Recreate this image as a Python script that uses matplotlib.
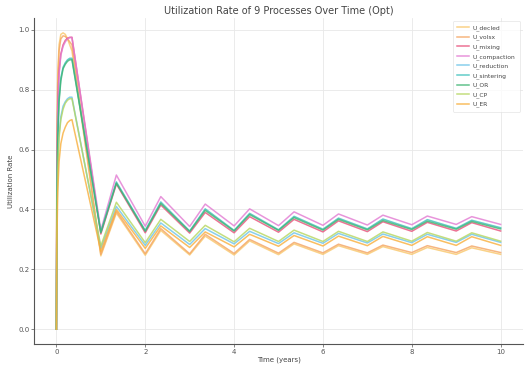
import matplotlib
matplotlib.use("Agg")
import matplotlib.pyplot as plt

# time points (years)
t_start = [0, 0.01, 0.03, 0.06, 0.1, 0.15, 0.2, 0.25, 0.3, 0.35]
t_cycle = [1, 1.35, 2, 2.35, 3, 3.35, 4, 4.35, 5, 5.35, 6, 6.35, 7, 7.35,
           8, 8.35, 9, 9.35, 10]
time = t_start + t_cycle

labels = ["U_decled", "U_volsx", "U_mixing", "U_compaction", "U_reduction",
          "U_sintering", "U_OR", "U_CP", "U_ER"]
colors = ["#f9c76a", "#f4a460", "#e8507a", "#e27ad2", "#6cc4e8",
          "#3cc0bc", "#3cb371", "#b5d65e", "#f8ae3a"]

U_decled = [0, 0.6, 0.85, 0.95, 0.985, 0.99, 0.985, 0.97, 0.95, 0.93,
            0.245, 0.388, 0.247, 0.33, 0.248, 0.311, 0.248, 0.295, 0.249, 0.285,
            0.25, 0.279, 0.25, 0.276, 0.25, 0.273, 0.25, 0.272, 0.25]
U_volsx = [0, 0.55, 0.82, 0.93, 0.97, 0.98, 0.978, 0.97, 0.96, 0.95,
           0.25, 0.394, 0.252, 0.336, 0.252, 0.317, 0.253, 0.3, 0.254, 0.29,
           0.255, 0.284, 0.255, 0.281, 0.256, 0.279, 0.256, 0.278, 0.256]
U_mixing = [0, 0.5, 0.75, 0.86, 0.92, 0.95, 0.965, 0.972, 0.975, 0.975,
            0.318, 0.485, 0.322, 0.415, 0.321, 0.39, 0.322, 0.376, 0.324, 0.367,
            0.325, 0.362, 0.326, 0.359, 0.327, 0.357, 0.328, 0.356, 0.328]
U_compaction = [0, 0.48, 0.73, 0.85, 0.915, 0.945, 0.96, 0.97, 0.974, 0.975,
                0.33, 0.515, 0.344, 0.443, 0.343, 0.418, 0.345, 0.402, 0.346, 0.392,
                0.347, 0.385, 0.348, 0.381, 0.349, 0.378, 0.35, 0.376, 0.35]
U_reduction = [0, 0.35, 0.55, 0.65, 0.71, 0.745, 0.76, 0.77, 0.775, 0.775,
               0.27, 0.41, 0.28, 0.355, 0.283, 0.336, 0.285, 0.327, 0.286, 0.322,
               0.287, 0.32, 0.288, 0.318, 0.289, 0.317, 0.29, 0.317, 0.29]
U_sintering = [0, 0.42, 0.65, 0.77, 0.84, 0.875, 0.89, 0.9, 0.905, 0.905,
               0.325, 0.492, 0.33, 0.425, 0.328, 0.402, 0.33, 0.387, 0.332, 0.377,
               0.334, 0.371, 0.335, 0.368, 0.336, 0.366, 0.337, 0.364, 0.339]
U_OR = [0, 0.4, 0.63, 0.76, 0.83, 0.87, 0.885, 0.895, 0.9, 0.9,
        0.322, 0.488, 0.327, 0.42, 0.326, 0.397, 0.328, 0.383, 0.33, 0.373,
        0.331, 0.367, 0.332, 0.363, 0.333, 0.361, 0.334, 0.36, 0.335]
U_CP = [0, 0.33, 0.53, 0.64, 0.7, 0.735, 0.755, 0.765, 0.77, 0.77,
        0.278, 0.424, 0.289, 0.367, 0.293, 0.347, 0.292, 0.337, 0.293, 0.331,
        0.293, 0.327, 0.293, 0.325, 0.294, 0.323, 0.294, 0.322, 0.294]
U_ER = [0, 0.28, 0.46, 0.56, 0.62, 0.655, 0.675, 0.69, 0.697, 0.70,
        0.26, 0.40, 0.27, 0.345, 0.273, 0.325, 0.275, 0.317, 0.277, 0.313,
        0.278, 0.311, 0.279, 0.31, 0.28, 0.309, 0.28, 0.309, 0.28]

series = [U_decled, U_volsx, U_mixing, U_compaction, U_reduction,
          U_sintering, U_OR, U_CP, U_ER]

fig = plt.figure(figsize=(5.26, 3.65), dpi=100)
ax = fig.add_axes([0.065, 0.0575, 0.929, 0.8935])

for y, lab, c in zip(series, labels, colors):
    ax.plot(time, y, color=c, lw=1.1, alpha=0.8, label=lab)

ax.set_xlim(-0.5, 10.5)
ax.set_ylim(-0.0495, 1.04)
ax.set_xticks([0, 2, 4, 6, 8, 10])
ax.set_yticks([0.0, 0.2, 0.4, 0.6, 0.8, 1.0])
ax.grid(True, color="#e8e8e8", lw=0.6)
ax.set_axisbelow(True)
for s in ["top", "right"]:
    ax.spines[s].set_visible(False)
for s in ["left", "bottom"]:
    ax.spines[s].set_color("#555555")
    ax.spines[s].set_linewidth(0.8)
ax.tick_params(labelsize=5, colors="#555555", length=2, width=0.5, pad=1.5)

ax.set_title("Utilization Rate of 9 Processes Over Time (Opt)", fontsize=7,
             color="#444444", pad=2.5)
ax.set_xlabel("Time (years)", fontsize=5, color="#444444", labelpad=1)
ax.set_ylabel("Utilization Rate", fontsize=5, color="#444444", labelpad=3)

leg = ax.legend(loc="upper right", fontsize=4.3, frameon=True, handlelength=2.0,
                labelspacing=0.62, borderpad=0.7, handletextpad=0.6,
                bbox_to_anchor=(1.0, 1.0))
leg.get_frame().set_edgecolor("#dddddd")
leg.get_frame().set_linewidth(0.5)
for txt in leg.get_texts():
    txt.set_color("#444444")

fig.savefig("out.png", dpi=100)
